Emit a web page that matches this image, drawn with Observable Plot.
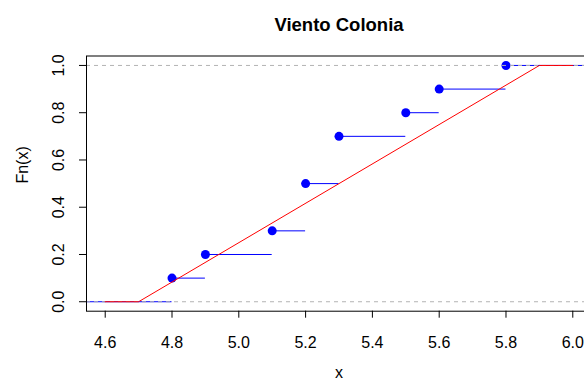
<!DOCTYPE html>
<html>
<head>
<meta charset="utf-8">
<script src="https://cdn.jsdelivr.net/npm/d3@7"></script>
<script src="https://cdn.jsdelivr.net/npm/@observablehq/plot@0.6"></script>
<style>
  html, body { margin: 0; padding: 0; background: white; overflow: hidden; }
  #chart { width: 584px; height: 388px; overflow: hidden; }
</style>
</head>
<body>
<div id="chart"></div>
<script>
// ECDF data (Viento Colonia)
const xValues = [4.8, 4.9, 5.1, 5.2, 5.3, 5.5, 5.6, 5.8];
const fnValues = [0.1, 0.2, 0.3, 0.5, 0.7, 0.8, 0.9, 1.0];
// Uniform reference CDF (red line)
const unifX = [4.6, 4.7, 5.9, 6.0];
const unifY = [0, 0, 1, 1];
// Axis ticks
const xTicks = [4.6, 4.8, 5.0, 5.2, 5.4, 5.6, 5.8, 6.0];
const yTicks = [0, 0.2, 0.4, 0.6, 0.8, 1.0];
const xDomain = [4.544, 6.056];
const yDomain = [-0.04, 1.04];

// Step segments: each level from its jump to the next jump (extended to plot edges)
const jumps = [xDomain[0] - 1, ...xValues, xDomain[1] + 1];
const levels = [0, ...fnValues];
const steps = levels.map((v, i) => ({x1: jumps[i], x2: jumps[i + 1], y: v}));
const points = xValues.map((x, i) => ({x, y: fnValues[i]}));
const unif = unifX.map((x, i) => ({x, y: unifY[i]}));

const font = "'Liberation Sans', Arial, Helvetica, sans-serif";

const chart = Plot.plot({
  width: 584,
  height: 388,
  marginLeft: 86,
  marginRight: -7,
  marginTop: 55.5,
  marginBottom: 77.3,
  style: {fontFamily: font, fontSize: "16px", background: "white", color: "black", overflow: "hidden"},
  x: {domain: xDomain},
  y: {domain: yDomain},
  marks: [
    Plot.ruleY(steps, {x1: "x1", x2: "x2", y: "y", stroke: "blue", strokeWidth: 1, clip: true}),
    Plot.dot(points, {x: "x", y: "y", r: 4.5, fill: "blue", stroke: "none"}),
    Plot.ruleY([0, 1], {stroke: "#b3b3b3", strokeDasharray: "4,4", strokeWidth: 1}),
    Plot.line(unif, {x: "x", y: "y", stroke: "red", strokeWidth: 1}),
    Plot.frame({stroke: "black", strokeWidth: 1}),
    Plot.axisX({ticks: xTicks, tickSize: 7, tickPadding: 18, tickFormat: d3.format(".1f"), label: null, fontSize: "16px"}),
    Plot.axisY({ticks: yTicks, tickSize: 7, tickPadding: 16, tickRotate: -90, tickFormat: d3.format(".1f"), label: null, fontSize: "16px"}),
    Plot.text(["Viento Colonia"], {frameAnchor: "top", dy: -38, text: d => d, fontWeight: "bold", fontSize: "18.5px"}),
    Plot.text(["x"], {frameAnchor: "bottom", dy: 67, text: d => d, fontSize: "16px"}),
    Plot.text(["Fn(x)"], {frameAnchor: "left", dx: -64, rotate: -90, text: d => d, fontSize: "16px"})
  ]
});
document.getElementById("chart").appendChild(chart);
</script>
</body>
</html>
